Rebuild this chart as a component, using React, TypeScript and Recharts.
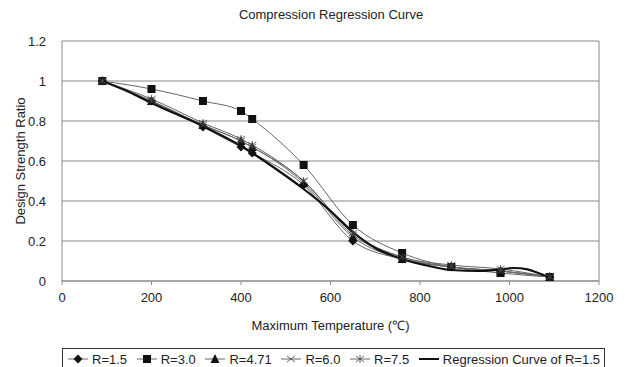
import React from 'react';
import { LineChart, Line, XAxis, YAxis, CartesianGrid, Label, ReferenceLine } from 'recharts';

// temperatures where every specimen series was measured
const temps = [90, 200, 315, 400, 425, 540, 650, 760, 870, 980, 1090];

const r15 = [1.0, 0.9, 0.77, 0.67, 0.64, 0.48, 0.2, 0.11, 0.07, 0.05, 0.02];
const r30 = [1.0, 0.96, 0.9, 0.85, 0.81, 0.58, 0.28, 0.14, 0.07, 0.04, 0.02];
const r471 = [1.0, 0.9, 0.78, 0.7, 0.67, 0.49, 0.22, 0.11, 0.07, 0.05, 0.02];
const r60 = [1.0, 0.9, 0.78, 0.7, 0.67, 0.5, 0.23, 0.12, 0.07, 0.05, 0.02];
const r75 = [1.0, 0.91, 0.79, 0.71, 0.68, 0.5, 0.24, 0.12, 0.08, 0.06, 0.02];

// regression curve
const regTemps = [90, 150, 200, 250, 315, 350, 400, 425, 475, 540, 600, 650, 700, 760, 820, 870, 930, 980, 1010, 1040, 1070, 1090];
const regVals = [1.0, 0.945, 0.89, 0.84, 0.775, 0.735, 0.675, 0.64, 0.565, 0.46, 0.35, 0.245, 0.165, 0.11, 0.075, 0.055, 0.05, 0.058, 0.065, 0.058, 0.035, 0.02];

const xTicks = [0, 200, 400, 600, 800, 1000, 1200];
const yTicks = [0, 0.2, 0.4, 0.6, 0.8, 1, 1.2];

const toPoints = (xs: number[], ys: number[]) => xs.map((x, i) => ({ x, y: ys[i] }));

const FONT = '"Liberation Sans", Arial, sans-serif';
const INK = '#111';
const TEXT = '#222';
const SERIES_LINE = '#666';
const FRAME = '#888';

type Shape = 'diamond' | 'square' | 'triangle' | 'cross' | 'star' | 'none';

function Marker({ cx, cy, shape }: { cx: number; cy: number; shape: Shape }) {
  if (cx == null || cy == null) return null;
  const s = 4.5;
  switch (shape) {
    case 'diamond':
      return <path d={`M${cx},${cy - s} L${cx + s},${cy} L${cx},${cy + s} L${cx - s},${cy} Z`} fill={INK} />;
    case 'square':
      return <rect x={cx - 4} y={cy - 4} width={8} height={8} fill={INK} />;
    case 'triangle':
      return <path d={`M${cx},${cy - 5} L${cx + 4.5},${cy + 4} L${cx - 4.5},${cy + 4} Z`} fill={INK} />;
    case 'cross':
      return (
        <path d={`M${cx - 4},${cy - 3} L${cx + 4},${cy + 3} M${cx - 4},${cy + 3} L${cx + 4},${cy - 3}`} stroke="#444" strokeWidth={0.8} fill="none" />
      );
    case 'star':
      return (
        <path
          d={`M${cx - 4},${cy - 3} L${cx + 4},${cy + 3} M${cx - 4},${cy + 3} L${cx + 4},${cy - 3} M${cx},${cy - 4} L${cx},${cy + 4}`}
          stroke="#444"
          strokeWidth={0.8}
          fill="none"
        />
      );
    default:
      return null;
  }
}

const dotFor = (shape: Shape) => (p: any) => <Marker key={`${shape}-${p.index}`} cx={p.cx} cy={p.cy} shape={shape} />;

const legendItems: { name: string; shape: Shape }[] = [
  { name: 'R=1.5', shape: 'diamond' },
  { name: 'R=3.0', shape: 'square' },
  { name: 'R=4.71', shape: 'triangle' },
  { name: 'R=6.0', shape: 'cross' },
  { name: 'R=7.5', shape: 'star' },
  { name: 'Regression Curve of R=1.5', shape: 'none' },
];

function LegendBox() {
  return (
    <div
      style={{
        position: 'absolute',
        left: 62,
        top: 348,
        width: 543,
        height: 24,
        border: '1px solid #333',
        display: 'flex',
        alignItems: 'center',
        justifyContent: 'space-between',
        padding: '0 4px 2px 4px',
        fontFamily: FONT,
        fontSize: 13,
        color: TEXT,
        boxSizing: 'border-box',
        whiteSpace: 'nowrap',
      }}
    >
      {legendItems.map((it) => (
        <span key={it.name} style={{ display: 'flex', alignItems: 'center', gap: 3 }}>
          <svg width={22} height={12}>
            <line x1={1} x2={21} y1={6} y2={6} stroke={it.shape === 'none' ? INK : SERIES_LINE} strokeWidth={it.shape === 'none' ? 2 : 1} />
            <Marker cx={11} cy={6} shape={it.shape} />
          </svg>
          {it.name}
        </span>
      ))}
    </div>
  );
}

export default function App() {
  const series: { name: string; vals: number[]; shape: Shape }[] = [
    { name: 'R=1.5', vals: r15, shape: 'diamond' },
    { name: 'R=3.0', vals: r30, shape: 'square' },
    { name: 'R=4.71', vals: r471, shape: 'triangle' },
    { name: 'R=6.0', vals: r60, shape: 'cross' },
    { name: 'R=7.5', vals: r75, shape: 'star' },
  ];

  return (
    <div style={{ position: 'absolute', left: 0, top: 0, width: 625, height: 367, background: '#fff', fontFamily: FONT, overflow: 'hidden' }}>
      <div style={{ position: 'absolute', left: 0, width: 662, top: 7, textAlign: 'center', fontSize: 13, color: TEXT }}>
        Compression Regression Curve
      </div>
      <LineChart width={625} height={367} margin={{ top: 41, right: 26, left: 12, bottom: 56 }}>
        <CartesianGrid horizontal vertical={false} stroke={FRAME} />
        <XAxis
          type="number"
          dataKey="x"
          domain={[0, 1200]}
          ticks={xTicks}
          height={30}
          allowDataOverflow
          stroke={FRAME}
          tickSize={4}
          tickMargin={8}
          tick={{ fill: TEXT, fontSize: 13, fontFamily: FONT }}
        >
          <Label value="Maximum Temperature (℃)" position="insideBottom" offset={-19} style={{ fill: TEXT, fontSize: 13, fontFamily: FONT }} />
        </XAxis>
        <YAxis
          type="number"
          domain={[0, 1.2]}
          ticks={yTicks}
          width={50}
          stroke={FRAME}
          tickLine={false}
          tickMargin={10}
          tick={{ fill: TEXT, fontSize: 13, fontFamily: FONT }}
        >
          <Label value="Design Strength Ratio" angle={-90} position="insideLeft" offset={8} style={{ textAnchor: 'middle', fill: TEXT, fontSize: 13, fontFamily: FONT }} />
        </YAxis>
        <ReferenceLine x={1200} stroke={FRAME} />
        {series.map((s) => (
          <Line
            key={s.name}
            data={toPoints(temps, s.vals)}
            dataKey="y"
            name={s.name}
            type="monotone"
            stroke={SERIES_LINE}
            strokeWidth={1}
            dot={dotFor(s.shape)}
            activeDot={false}
            isAnimationActive={false}
          />
        ))}
        <Line
          data={toPoints(regTemps, regVals)}
          dataKey="y"
          name="Regression Curve of R=1.5"
          type="monotone"
          stroke={INK}
          strokeWidth={2.2}
          dot={false}
          activeDot={false}
          isAnimationActive={false}
        />
      </LineChart>
      <LegendBox />
    </div>
  );
}
